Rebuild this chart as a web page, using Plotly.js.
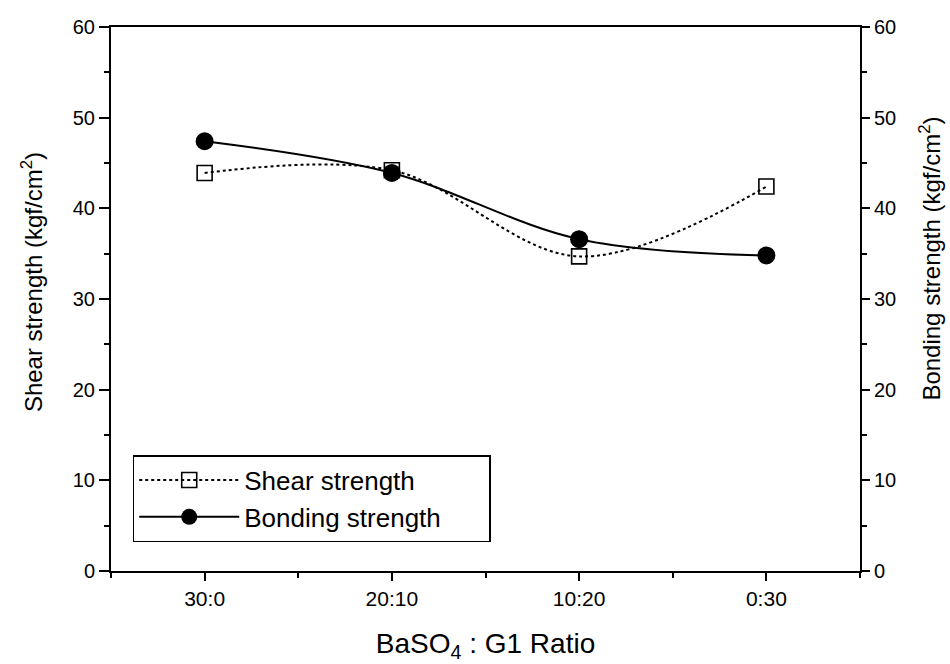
<!DOCTYPE html>
<html>
<head>
<meta charset="utf-8">
<script src="https://cdn.plot.ly/plotly-3.0.1.min.js"></script>
<style>html,body{margin:0;padding:0;background:#fff;}#chart{width:950px;height:664px;}</style>
</head>
<body>
<div id="chart"></div>
<script>
const categories = ["30:0", "20:10", "10:20", "0:30"];
const shearStrength = [43.9, 44.2, 34.7, 42.4];
const bondingStrength = [47.4, 43.9, 36.6, 34.8];
const yTickValues = [0, 10, 20, 30, 40, 50, 60];

const xIdx = categories.map((c, i) => i);
const FONT = "Liberation Sans, Arial, sans-serif";

const traces = [
  {
    x: xIdx, y: shearStrength, name: "Shear strength",
    type: "scatter", mode: "lines+markers",
    line: {color: "#000", width: 2, dash: "dot", shape: "spline", smoothing: 1},
    marker: {symbol: "square-open", size: 15, color: "#000", line: {width: 1.6, color: "#000"}},
    xaxis: "x", yaxis: "y"
  },
  {
    x: xIdx, y: bondingStrength, name: "Bonding strength\u00a0\u00a0\u00a0\u00a0\u00a0\u00a0",
    type: "scatter", mode: "lines+markers",
    line: {color: "#000", width: 2, shape: "spline", smoothing: 1},
    marker: {symbol: "circle", size: 18, color: "#000"},
    xaxis: "x", yaxis: "y2"
  }
];

const layout = {
  width: 950, height: 664,
  margin: {l: 111, r: 90, t: 27, b: 93},
  paper_bgcolor: "#fff", plot_bgcolor: "#fff",
  font: {family: FONT, color: "#000", size: 20},
  showlegend: true,
  legend: {
    x: 0.029, y: 0.213, xanchor: "left", yanchor: "top",
    bordercolor: "#000", borderwidth: 1.5, bgcolor: "#fff",
    font: {family: FONT, size: 26, color: "#000"},
    itemwidth: 100, tracegroupgap: 0
  },
  xaxis: {
    range: [-0.5, 3.5], tickmode: "array", tickvals: xIdx, ticktext: categories,
    showgrid: false, zeroline: false, showline: true, linecolor: "#000", linewidth: 2,
    mirror: true, ticks: "outside", ticklen: 8, tickwidth: 2, tickcolor: "#000",
    tickfont: {family: FONT, size: 21},
    minor: {tickvals: [-0.5, 0.5, 1.5, 2.5, 3.5], ticks: "outside", ticklen: 5, tickwidth: 2, tickcolor: "#000", showgrid: false},
    title: {text: "BaSO<sub>4</sub>\u00a0:\u00a0G1 Ratio", font: {family: FONT, size: 28}, standoff: 24}
  },
  yaxis: {
    range: [0, 60], tickmode: "array", tickvals: yTickValues,
    showgrid: false, zeroline: false, showline: true, linecolor: "#000", linewidth: 2,
    ticks: "outside", ticklen: 10, tickwidth: 2, tickcolor: "#000",
    tickfont: {family: FONT, size: 20},
    minor: {dtick: 5, ticks: "outside", ticklen: 5, tickwidth: 2, tickcolor: "#000", showgrid: false}
  },
  yaxis2: {
    overlaying: "y", side: "right", anchor: "x", range: [0, 60],
    tickmode: "array", tickvals: yTickValues,
    showgrid: false, zeroline: false, showline: true, linecolor: "#000", linewidth: 2,
    ticks: "outside", ticklen: 8, tickwidth: 2, tickcolor: "#000",
    tickfont: {family: FONT, size: 20},
    minor: {dtick: 5, ticks: "outside", ticklen: 5, tickwidth: 2, tickcolor: "#000", showgrid: false}
  },
  annotations: [
    {text: "Shear strength (kgf/cm<sup>2</sup>)", xref: "paper", yref: "paper",
     x: -0.1055, y: 0.531, xanchor: "center", yanchor: "middle", textangle: -90,
     showarrow: false, font: {family: FONT, size: 24, color: "#000"}},
    {text: "Bonding strength (kgf/cm<sup>2</sup>)", xref: "paper", yref: "paper",
     x: 1.094, y: 0.575, xanchor: "center", yanchor: "middle", textangle: -90,
     showarrow: false, font: {family: FONT, size: 24, color: "#000"}}
  ]
};

Plotly.newPlot("chart", traces, layout, {staticPlot: true, displayModeBar: false});
</script>
</body>
</html>
